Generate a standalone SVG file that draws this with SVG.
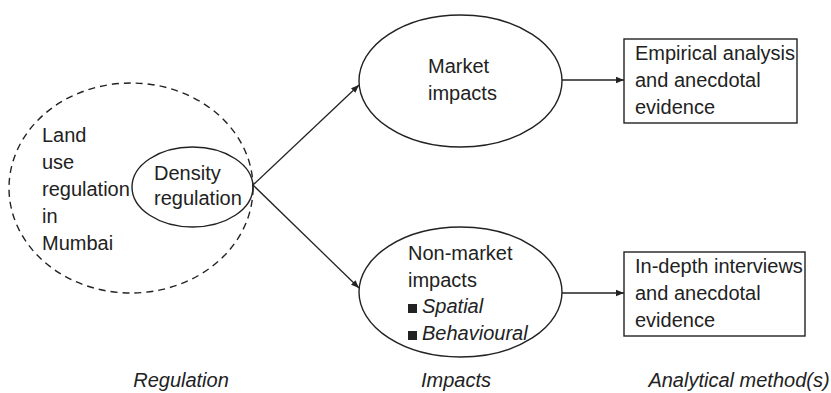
<svg xmlns="http://www.w3.org/2000/svg" width="831" height="393" viewBox="0 0 831 393">
<defs>
<marker id="ah" viewBox="0 0 10 10" refX="10" refY="5" markerWidth="8" markerHeight="8" markerUnits="userSpaceOnUse" orient="auto">
<path d="M0,1 L10,5 L0,9 z" fill="#222"/>
</marker>
<style>
.t{font-family:"Liberation Sans",Arial,sans-serif;font-size:20px;fill:#222}
.i{font-style:italic}
.sh{fill:none;stroke:#222;stroke-width:1.4}
.ln{fill:none;stroke:#222;stroke-width:1.3;marker-end:url(#ah)}
</style>
</defs>
<rect width="831" height="393" fill="#fff"/>
<g id="land-use">
<ellipse class="sh" cx="131" cy="188" rx="122" ry="105" stroke-dasharray="7,5"/>
<text class="t" x="42" y="142">Land</text>
<text class="t" x="42" y="169">use</text>
<text class="t" x="42" y="196">regulation</text>
<text class="t" x="42" y="223">in</text>
<text class="t" x="42" y="250">Mumbai</text>
</g>
<g id="density">
<ellipse class="sh" cx="192.5" cy="187" rx="60.5" ry="40"/>
<text class="t" x="154" y="180">Density</text>
<text class="t" x="154" y="205">regulation</text>
</g>
<g id="market">
<ellipse class="sh" cx="460.5" cy="81" rx="101.5" ry="66"/>
<text class="t" x="428" y="73">Market</text>
<text class="t" x="428" y="100">impacts</text>
</g>
<g id="nonmarket">
<ellipse class="sh" cx="460.5" cy="292" rx="101.5" ry="65"/>
<text class="t" x="408" y="260">Non-market</text>
<text class="t" x="408" y="287">impacts</text>
<rect x="408" y="304" width="9" height="9" fill="#222"/>
<text class="t i" x="422" y="313">Spatial</text>
<rect x="408" y="331" width="9" height="9" fill="#222"/>
<text class="t i" x="422" y="340">Behavioural</text>
</g>
<g id="empirical">
<rect class="sh" x="624" y="39" width="173" height="84"/>
<text class="t" x="635" y="60">Empirical analysis</text>
<text class="t" x="635" y="87">and anecdotal</text>
<text class="t" x="635" y="114">evidence</text>
</g>
<g id="interviews">
<rect class="sh" x="624" y="252" width="181" height="84"/>
<text class="t" x="635" y="273">In-depth interviews</text>
<text class="t" x="635" y="300">and anecdotal</text>
<text class="t" x="635" y="327">evidence</text>
</g>
<g id="connectors">
<line class="ln" x1="253" y1="185" x2="359" y2="85"/>
<line class="ln" x1="253" y1="185" x2="359" y2="288"/>
<line class="ln" x1="562" y1="80" x2="624" y2="80"/>
<line class="ln" x1="562" y1="293" x2="624" y2="293"/>
</g>
<g id="axis-labels">
<text class="t i" x="181" y="387" text-anchor="middle">Regulation</text>
<text class="t i" x="456" y="387" text-anchor="middle">Impacts</text>
<text class="t i" x="739" y="387" text-anchor="middle">Analytical method(s)</text>
</g>
</svg>
